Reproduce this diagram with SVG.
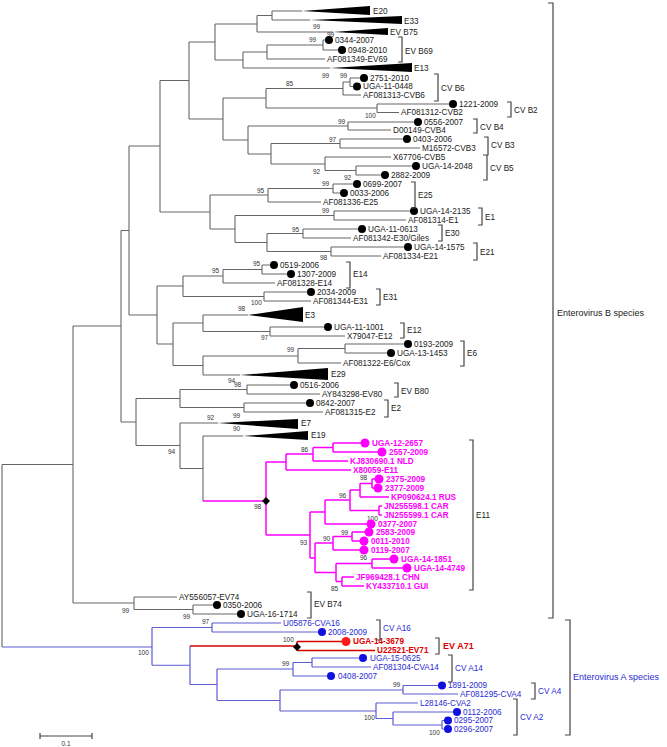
<svg xmlns="http://www.w3.org/2000/svg" width="667" height="747" viewBox="0 0 667 747">
<style>
.t{font-family:"Liberation Sans",Arial,sans-serif;font-size:8.2px;fill:#222;dominant-baseline:central}
.m{fill:#ff00ff;font-weight:bold}
.bl{fill:#2a2ad4}
.rd{fill:#e00000;font-weight:bold}
.bs{font-family:"Liberation Sans",Arial,sans-serif;font-size:6.5px;fill:#333;dominant-baseline:central}
.sp{font-size:9px}
.lg{fill:none;stroke:#666;stroke-width:1.1}
.lm{fill:none;stroke:#ff00ff;stroke-width:1.5}
.lb{fill:none;stroke:#5c5cd6;stroke-width:1.2}
.lr{fill:none;stroke:#d40000;stroke-width:1.6}
.br{fill:none;stroke:#444;stroke-width:1.2}
.dk{fill:#000}
.dm{fill:#ff00ff}
.db{fill:#1010e0}
.dr{fill:#ff1a1a}
</style>
<rect width="667" height="747" fill="#fff"/>
<g id="connectors">
<path class="lg" d="M272,11V20M272,11H302M272,20H310
M257,15.5V32M257,15.5H272M257,32H333
M323,40V50M323,40H325M323,50H338
M267,45V59M267,45H323M267,59H325
M243,52V68M243,52H267M243,68H330
M215,24V60M215,24H257M215,60H243
M350,78V86.5M350,78H360M350,86.5H353
M343,82V95M343,82H350M343,95H361
M377,104V112.5M377,104H449M377,112.5H399
M266,88.5V108M266,88.5H343M266,108H377
M348,122V130M348,122H414M348,130H391
M340,139V148M340,139H403M340,148H420
M356,166V175M356,166H412M356,175H381
M325,157V170.5M325,157H391M325,170.5H356
M271,143.5V164M271,143.5H340M271,164H325
M248,126V154M248,126H348M248,154H271
M223,98V140M223,98H266M223,140H248
M189,42V119M189,42H215M189,119H223
M333,184V193M333,184H353M333,193H340
M268,188.5V202M268,188.5H333M268,202H321
M334,211V220M334,211H410M334,220H406
M303,229V238M303,229H358M303,238H351
M331,247V256M331,247H404M331,256H381
M267,233.5V251.5M267,233.5H303M267,251.5H331
M235,215.5V242.5M235,215.5H334M235,242.5H267
M210,195V229M210,195H268M210,229H235
M160,80.5V212M160,80.5H189M160,212H210
M262,265V274M262,265H270M262,274H287
M223,269.5V283M223,269.5H262M223,283H275
M264,292V301M264,292H307M264,301H311
M183,276V296.5M183,276H223M183,296.5H264
M270,327V336M270,327H324M270,336H345
M203,315V331.5M203,315H248M203,331.5H270
M345,344V353M345,344H404M345,353H387
M298,348.5V363M298,348.5H345M298,363H341
M203,356V375M203,356H298M203,375H240
M173,323V365.5M173,323H203M173,365.5H203
M157,286V344M157,286H183M157,344H173
M129,146V315M129,146H160M129,315H157
M247,385V394M247,385H290M247,394H320
M244,403V412M244,403H306M244,412H323
M180,389.5V407.5M180,389.5H247M180,407.5H244
M203,436V501M203,436H243
M180,423V468.5M180,423H218M180,468.5H203
M136,398.5V445.5M136,398.5H180M136,445.5H180
M121,230.5V422M121,230.5H129M121,422H136
M193,605V614M193,605H213M193,614H237
M134,597V609.5M134,597H177M134,609.5H193
M73,326V603M73,326H121M73,603H134
M2,464.5V647M2,464.5H73"/>
<path class="lm" d="M203,501H266M266,462V535
M266,462H286M286,454V470M286,454H313M286,470H351
M313,447.5V461M313,447.5H333M313,461H348
M333,443V452M333,443H361M333,452H378
M266,535H310M310,512V558
M310,512H325M325,500V524M325,524H367
M325,500H350M350,490V510.5
M350,490H360M360,483.5V497M360,497H389
M360,483.5H372M372,479V488M372,479H375M372,488H374
M350,510.5H379M379,506V515M379,506H382M379,515H382
M310,558H315M315,543V572.5
M315,543H333M333,536.5V550M333,550H360
M333,536.5H352M352,532V541M352,532H365M352,541H360
M315,572.5H336M336,563.5V581.5
M336,563.5H372M372,559V568M372,559H390M372,568H403
M336,581.5H342M342,577V586M342,577H354M342,586H364"/>
<path class="lb" d="M2,647H152M152,627.5V665.25M152,627.5H212M152,665.25H190
M212,623V632M212,623H281M212,632H318
M190,646V684.5M190,684.5H217
M217,669V700.5M217,669H293M217,700.5H280
M293,662.5V676M293,662.5H312M293,676H327
M312,658V667M312,658H359M312,667H371
M280,690V711M280,690H403M280,711H376
M403,685.5V694M403,685.5H438M403,694H458
M376,703V718.5M376,703H418M376,718.5H393
M393,712V725M393,712H453M393,725H442
M442,720.5V729M442,720.5H444M442,729H444"/>
<path class="lr" d="M190,646H297M297,641.5V650.5M297,641.5H342M297,650.5H375"/>
</g>
<g id="bootstrap">
<text class="bs" x="313" y="26">99</text>
<text class="bs" x="327" y="34">99</text>
<text class="bs" x="309" y="39">99</text>
<text class="bs" x="322" y="75">99</text>
<text class="bs" x="340" y="75">99</text>
<text class="bs" x="286" y="83">85</text>
<text class="bs" x="365" y="115">100</text>
<text class="bs" x="338" y="121">99</text>
<text class="bs" x="329" y="139">97</text>
<text class="bs" x="313" y="171">92</text>
<text class="bs" x="344" y="177">92</text>
<text class="bs" x="322" y="183">99</text>
<text class="bs" x="257" y="190">95</text>
<text class="bs" x="322" y="210">99</text>
<text class="bs" x="292" y="229">95</text>
<text class="bs" x="320" y="257">98</text>
<text class="bs" x="253" y="263">95</text>
<text class="bs" x="212" y="270">95</text>
<text class="bs" x="251" y="302">100</text>
<text class="bs" x="238" y="308">98</text>
<text class="bs" x="261" y="337">97</text>
<text class="bs" x="287" y="349">99</text>
<text class="bs" x="228" y="380">94</text>
<text class="bs" x="234" y="384">98</text>
<text class="bs" x="233" y="415">99</text>
<text class="bs" x="207" y="417">92</text>
<text class="bs" x="233" y="428">90</text>
<text class="bs" x="168" y="451">94</text>
<text class="bs" x="301" y="449">86</text>
<text class="bs" x="360" y="477">98</text>
<text class="bs" x="339" y="495">96</text>
<text class="bs" x="367" y="518">100</text>
<text class="bs" x="254" y="506">98</text>
<text class="bs" x="341" y="532">99</text>
<text class="bs" x="323" y="538">90</text>
<text class="bs" x="300" y="542">93</text>
<text class="bs" x="360" y="557">96</text>
<text class="bs" x="331" y="588">85</text>
<text class="bs" x="122" y="610">99</text>
<text class="bs" x="183" y="616">99</text>
<text class="bs" x="202" y="621">97</text>
<text class="bs" x="138" y="652">100</text>
<text class="bs" x="283" y="639">100</text>
<text class="bs" x="282" y="663">99</text>
<text class="bs" x="393" y="684">99</text>
<text class="bs" x="364" y="717">100</text>
<text class="bs" x="429" y="732">100</text>
</g>
<g id="collapsed">
<g id="E20"><polygon class="dk" points="302,11 370,6 370,15"/><text class="t" x="373" y="11">E20</text></g>
<g id="E33"><polygon class="dk" points="310,20 402,16 402,24"/><text class="t" x="404" y="21">E33</text></g>
<g id="EVB75"><polygon class="dk" points="333,32 388,28 388,35"/><text class="t" x="390" y="32">EV B75</text></g>
<g id="E13"><polygon class="dk" points="330,68 412,63 412,72"/><text class="t" x="414" y="68">E13</text></g>
<g id="E3"><polygon class="dk" points="248,315 303,307 303,322"/><text class="t" x="305" y="315">E3</text></g>
<g id="E29"><polygon class="dk" points="240,375 328,368 328,380"/><text class="t" x="331" y="374">E29</text></g>
<g id="E7"><polygon class="dk" points="218,423 298,419 298,429"/><text class="t" x="301" y="423">E7</text></g>
<g id="E19"><polygon class="dk" points="243,436 308,431 308,440"/><text class="t" x="311" y="435">E19</text></g>
</g>
<g id="leaves-B">
<g id="n0344"><circle class="dk" cx="329" cy="40" r="4"/><text class="t" x="335" y="40">0344-2007</text></g>
<g id="n0948"><circle class="dk" cx="342" cy="50" r="4"/><text class="t" x="348" y="50">0948-2010</text></g>
<g id="nAF081349"><text class="t" x="327" y="59">AF081349-EV69</text></g>
<g id="n2751"><circle class="dk" cx="364" cy="78" r="4"/><text class="t" x="370" y="78">2751-2010</text></g>
<g id="nUGA-11-0448"><circle class="dk" cx="357" cy="86.5" r="4"/><text class="t" x="363" y="86.5">UGA-11-0448</text></g>
<g id="nAF081313"><text class="t" x="363" y="95">AF081313-CVB6</text></g>
<g id="n1221"><circle class="dk" cx="453" cy="104" r="4"/><text class="t" x="459" y="104">1221-2009</text></g>
<g id="nAF081312"><text class="t" x="401" y="112.5">AF081312-CVB2</text></g>
<g id="n0556"><circle class="dk" cx="418" cy="122" r="4"/><text class="t" x="424" y="122">0556-2007</text></g>
<g id="nD00149"><text class="t" x="393" y="130">D00149-CVB4</text></g>
<g id="n0403"><circle class="dk" cx="407" cy="139" r="4"/><text class="t" x="413" y="139">0403-2006</text></g>
<g id="nM16572"><text class="t" x="422" y="148">M16572-CVB3</text></g>
<g id="nX67706"><text class="t" x="393" y="157">X67706-CVB5</text></g>
<g id="nUGA-14-2048"><circle class="dk" cx="416" cy="166" r="4"/><text class="t" x="422" y="166">UGA-14-2048</text></g>
<g id="n2882"><circle class="dk" cx="385" cy="175" r="4"/><text class="t" x="391" y="175">2882-2009</text></g>
<g id="n0699"><circle class="dk" cx="357" cy="184" r="4"/><text class="t" x="363" y="184">0699-2007</text></g>
<g id="n0033"><circle class="dk" cx="344" cy="193" r="4"/><text class="t" x="350" y="193">0033-2006</text></g>
<g id="nAF081336"><text class="t" x="323" y="202">AF081336-E25</text></g>
<g id="nUGA-14-2135"><circle class="dk" cx="414" cy="211" r="4"/><text class="t" x="420" y="211">UGA-14-2135</text></g>
<g id="nAF081314"><text class="t" x="408" y="220">AF081314-E1</text></g>
<g id="nUGA-11-0613"><circle class="dk" cx="362" cy="229" r="4"/><text class="t" x="368" y="229">UGA-11-0613</text></g>
<g id="nAF081342"><text class="t" x="353" y="238">AF081342-E30/Giles</text></g>
<g id="nUGA-14-1575"><circle class="dk" cx="408" cy="247" r="4"/><text class="t" x="414" y="247">UGA-14-1575</text></g>
<g id="nAF081334"><text class="t" x="383" y="256">AF081334-E21</text></g>
<g id="n0519"><circle class="dk" cx="274" cy="265" r="4"/><text class="t" x="280" y="265">0519-2006</text></g>
<g id="n1307"><circle class="dk" cx="291" cy="274" r="4"/><text class="t" x="297" y="274">1307-2009</text></g>
<g id="nAF081328"><text class="t" x="277" y="283">AF081328-E14</text></g>
<g id="n2034"><circle class="dk" cx="311" cy="292" r="4"/><text class="t" x="317" y="292">2034-2009</text></g>
<g id="nAF081344"><text class="t" x="313" y="301">AF081344-E31</text></g>
<g id="nUGA-11-1001"><circle class="dk" cx="328" cy="327" r="4"/><text class="t" x="334" y="327">UGA-11-1001</text></g>
<g id="nX79047"><text class="t" x="347" y="336">X79047-E12</text></g>
<g id="n0193"><circle class="dk" cx="408" cy="344" r="4"/><text class="t" x="414" y="344">0193-2009</text></g>
<g id="nUGA-13-1453"><circle class="dk" cx="391" cy="353" r="4"/><text class="t" x="397" y="353">UGA-13-1453</text></g>
<g id="nAF081322"><text class="t" x="343" y="363">AF081322-E6/Cox</text></g>
<g id="n0516"><circle class="dk" cx="294" cy="385" r="4"/><text class="t" x="300" y="385">0516-2006</text></g>
<g id="nAY843298"><text class="t" x="322" y="394">AY843298-EV80</text></g>
<g id="n0842"><circle class="dk" cx="310" cy="403" r="4"/><text class="t" x="316" y="403">0842-2007</text></g>
<g id="nAF081315"><text class="t" x="325" y="412">AF081315-E2</text></g>
<g id="nAY556057"><text class="t" x="179" y="597">AY556057-EV74</text></g>
<g id="n0350"><circle class="dk" cx="217" cy="605" r="4"/><text class="t" x="223" y="605">0350-2006</text></g>
<g id="nUGA-16-1714"><circle class="dk" cx="241" cy="614" r="4"/><text class="t" x="247" y="614">UGA-16-1714</text></g>
</g>
<g id="leaves-E11">
<polygon id="dE11" class="dk" points="266,497 270,501 266,505 262,501"/>
<g id="nUGA-12-2657"><circle class="dm" cx="365" cy="443" r="4.5"/><text class="t m" x="372" y="443">UGA-12-2657</text></g>
<g id="n2557"><circle class="dm" cx="382" cy="452" r="4.5"/><text class="t m" x="389" y="452">2557-2009</text></g>
<g id="nKJ830690"><text class="t m" x="350" y="461">KJ830690.1 NLD</text></g>
<g id="nX80059"><text class="t m" x="353" y="470">X80059-E11</text></g>
<g id="n2375"><circle class="dm" cx="379" cy="479" r="4.5"/><text class="t m" x="386" y="479">2375-2009</text></g>
<g id="n2377"><circle class="dm" cx="378" cy="488" r="4.5"/><text class="t m" x="385" y="488">2377-2009</text></g>
<g id="nKP090624"><text class="t m" x="391" y="497">KP090624.1 RUS</text></g>
<g id="nJN255598"><text class="t m" x="384" y="506">JN255598.1 CAR</text></g>
<g id="nJN255599"><text class="t m" x="384" y="515">JN255599.1 CAR</text></g>
<g id="n0377"><circle class="dm" cx="371" cy="524" r="4.5"/><text class="t m" x="378" y="524">0377-2007</text></g>
<g id="n2583"><circle class="dm" cx="369" cy="532" r="4.5"/><text class="t m" x="376" y="532">2583-2009</text></g>
<g id="n0011"><circle class="dm" cx="364" cy="541" r="4.5"/><text class="t m" x="371" y="541">0011-2010</text></g>
<g id="n0119"><circle class="dm" cx="364" cy="550" r="4.5"/><text class="t m" x="371" y="550">0119-2007</text></g>
<g id="nUGA-14-1851"><circle class="dm" cx="394" cy="559" r="4.5"/><text class="t m" x="401" y="559">UGA-14-1851</text></g>
<g id="nUGA-14-4749"><circle class="dm" cx="407" cy="568" r="4.5"/><text class="t m" x="414" y="568">UGA-14-4749</text></g>
<g id="nJF969428"><text class="t m" x="356" y="577">JF969428.1 CHN</text></g>
<g id="nKY433710"><text class="t m" x="366" y="586">KY433710.1 GUI</text></g>
</g>
<g id="leaves-A">
<polygon id="dEV71" class="dk" points="297,643 301,647 297,651 293,647"/>
<g id="nU05876"><text class="t bl" x="283" y="623">U05876-CVA16</text></g>
<g id="n2008"><circle class="db" cx="322" cy="632" r="4"/><text class="t bl" x="328" y="632">2008-2009</text></g>
<g id="nUGA-14-3679"><circle class="dr" cx="346" cy="641.5" r="4.5"/><text class="t rd" x="353" y="641.5">UGA-14-3679</text></g>
<g id="nU22521"><text class="t rd" x="377" y="650.5">U22521-EV71</text></g>
<g id="nUGA-15-0625"><circle class="db" cx="363" cy="658" r="4"/><text class="t bl" x="370" y="658">UGA-15-0625</text></g>
<g id="nAF081304"><text class="t bl" x="373" y="667">AF081304-CVA14</text></g>
<g id="n0408"><circle class="db" cx="331" cy="676" r="4"/><text class="t bl" x="338" y="676">0408-2007</text></g>
<g id="n1891"><circle class="db" cx="442" cy="685.5" r="4"/><text class="t bl" x="448" y="685.5">1891-2009</text></g>
<g id="nAF081295"><text class="t bl" x="460" y="694">AF081295-CVA4</text></g>
<g id="nL28146"><text class="t bl" x="420" y="703">L28146-CVA2</text></g>
<g id="n0112"><circle class="db" cx="457" cy="712" r="4"/><text class="t bl" x="463" y="712">0112-2006</text></g>
<g id="n0295"><circle class="db" cx="448" cy="720.5" r="4"/><text class="t bl" x="454" y="720.5">0295-2007</text></g>
<g id="n0296"><circle class="db" cx="448" cy="729" r="4"/><text class="t bl" x="454" y="729">0296-2007</text></g>
</g>
<g id="brackets">
<path class="br" d="M398,37H402V62H398M434,74H438V101H434M507,102H511V117H507M473,119H477V133H473M484,137H488V155H484M483,155H487V180H483M411,182H415V208H411M478,208H482V225H478M438,225H442V241H438M473,243H477V260H473M346,262H350V288H346M376,289H380V305H376M400,323H404V338H400M460,341H464V366H460M394,383H398V397H394M384,400H388V417H384M469,440H473V590H469M307,592H311V618H307M548,3H553V618H548M376,620H380V640H376M435,638H439V654H435M448,655H452V682H448M531,683H535V699H531M513,699H517V735H513M565,620H570V735H565"/>
<text class="t" x="405" y="51">EV B69</text>
<text class="t" x="441" y="88">CV B6</text>
<text class="t" x="514" y="110">CV B2</text>
<text class="t" x="480" y="127">CV B4</text>
<text class="t" x="491" y="145">CV B3</text>
<text class="t" x="490" y="168">CV B5</text>
<text class="t" x="418" y="195">E25</text>
<text class="t" x="485" y="217">E1</text>
<text class="t" x="445" y="233">E30</text>
<text class="t" x="480" y="252">E21</text>
<text class="t" x="353" y="274">E14</text>
<text class="t" x="383" y="297">E31</text>
<text class="t" x="407" y="330">E12</text>
<text class="t" x="467" y="353">E6</text>
<text class="t" x="401" y="391">EV B80</text>
<text class="t" x="391" y="408">E2</text>
<text class="t" x="476" y="515">E11</text>
<text class="t" x="314" y="604">EV B74</text>
<text class="t sp" x="557" y="313">Enterovirus B species</text>
<text class="t bl" x="383" y="628">CV A16</text>
<text class="t rd sp" x="443" y="646">EV A71</text>
<text class="t bl" x="455" y="668">CV A14</text>
<text class="t bl" x="538" y="691">CV A4</text>
<text class="t bl" x="520" y="717">CV A2</text>
<text class="t bl sp" x="573" y="677">Enterovirus A species</text>
</g>
<g id="scale">
<path class="br" d="M40,736H92M40,733V739M92,733V739"/>
<text class="bs" x="66" y="743" text-anchor="middle" font-size="7">0.1</text>
</g>
</svg>
